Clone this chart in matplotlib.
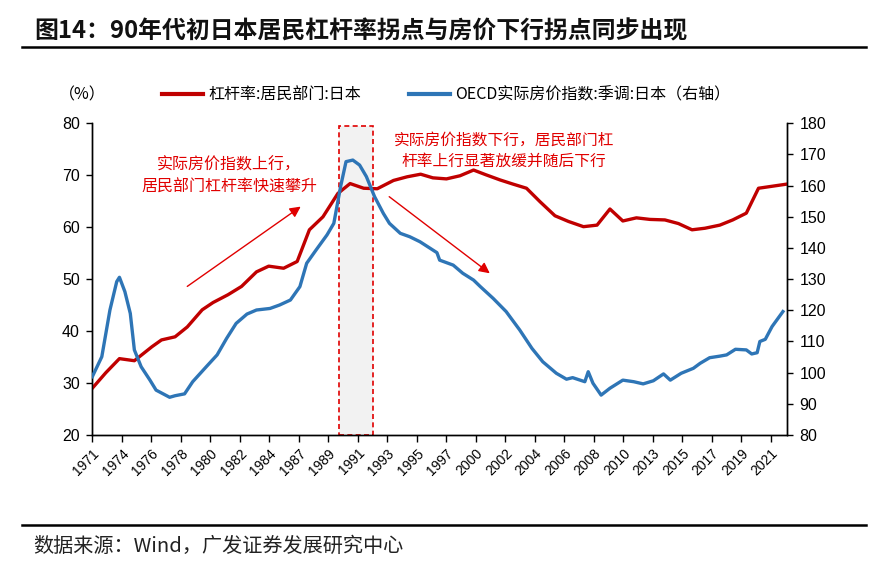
import matplotlib
matplotlib.use('Agg')
import matplotlib.pyplot as plt
from matplotlib.lines import Line2D
import numpy as np

plt.rcParams['font.family'] = ['Liberation Sans', 'Noto Sans CJK SC', 'DejaVu Sans']

title = "图14：90年代初日本居民杠杆率拐点与房价下行拐点同步出现"
source = "数据来源：Wind，广发证券发展研究中心"
lev_label = "杠杆率:居民部门:日本"
hp_label = "OECD实际房价指数:季调:日本（右轴）"
unit_label = "（%）"
note_up = "实际房价指数上行，\n居民部门杠杆率快速攀升"
note_down = "实际房价指数下行，居民部门杠\n杆率上行显著放缓并随后下行"

tick_labels = ["1971", "1974", "1976", "1978", "1980", "1982", "1984", "1987",
               "1989", "1991", "1993", "1995", "1997", "2000", "2002", "2004",
               "2006", "2008", "2010", "2013", "2015", "2017", "2019", "2021"]

lev_years = [1971.0, 1972.0, 1973.0, 1974.1, 1975.4, 1976.1, 1977.1, 1978.0, 1979.1,
             1979.9, 1981.0, 1982.0, 1983.1, 1984.0, 1985.1, 1986.1, 1987.0, 1988.0,
             1989.1, 1990.0, 1991.0, 1992.0, 1993.2, 1994.2, 1995.2, 1996.1, 1997.1,
             1998.1, 1999.1, 2000.0, 2001.05, 2002.0, 2003.0, 2004.0, 2005.1, 2006.1,
             2007.2, 2008.2, 2009.15, 2010.1, 2011.1, 2012.1, 2013.2, 2014.2, 2015.2,
             2016.15, 2017.25, 2018.2, 2019.2, 2020.1, 2022.2]
lev_values = [29.0, 32.0, 34.7, 34.3, 37.0, 38.3, 38.9, 40.8, 44.1,
              45.5, 47.0, 48.6, 51.4, 52.5, 52.1, 53.4, 59.5, 62.0,
              66.5, 68.4, 67.5, 67.4, 69.0, 69.7, 70.2, 69.5, 69.3,
              69.9, 71.0, 70.1, 69.1, 68.3, 67.5, 64.9, 62.2, 61.1,
              60.1, 60.4, 63.5, 61.2, 61.8, 61.5, 61.4, 60.7, 59.5,
              59.8, 60.4, 61.4, 62.7, 67.5, 68.3]

hp_years = [1971.0, 1971.7, 1972.3, 1972.8, 1973.0, 1973.4, 1973.8, 1974.1, 1974.6,
            1975.25, 1975.7, 1976.7, 1977.1, 1977.8, 1978.4, 1979.4, 1980.2, 1980.9,
            1981.6, 1982.4, 1983.1, 1984.1, 1984.8, 1985.6, 1986.3, 1986.8, 1987.5,
            1988.3, 1988.8, 1989.3, 1989.7, 1990.2, 1990.7, 1991.2, 1991.8, 1992.45,
            1992.9, 1993.7, 1994.4, 1995.15, 1995.9, 1996.4, 1996.6, 1997.6, 1998.3,
            1999.1, 1999.6, 2000.55, 2001.5, 2002.5, 2003.4, 2004.2, 2005.2, 2005.95,
            2006.4, 2007.3, 2007.55, 2007.9, 2008.5, 2009.15, 2010.1, 2010.9, 2011.6,
            2012.35, 2013.1, 2013.6, 2014.4, 2015.3, 2015.8, 2016.5, 2017.25, 2017.75,
            2018.4, 2019.2, 2019.6, 2020.0, 2020.2, 2020.6, 2021.1, 2021.9]
hp_values = [98.7, 105.1, 120.1, 129.2, 130.6, 126.0, 119.0, 107.3, 101.9,
             97.6, 94.4, 92.1, 92.6, 93.2, 97.1, 101.9, 105.7, 111.0,
             115.8, 118.8, 120.1, 120.6, 121.7, 123.3, 127.6, 135.1, 139.4,
             144.2, 147.9, 159.7, 167.7, 168.2, 166.6, 162.9, 156.5, 151.1,
             147.9, 144.7, 143.6, 142.0, 139.9, 138.5, 136.1, 134.5, 131.9,
             129.7, 127.6, 123.8, 119.6, 113.7, 107.8, 103.5, 99.8, 97.9,
             98.4, 97.1, 100.3, 96.6, 92.8, 95.0, 97.6, 97.1, 96.4,
             97.4, 99.6, 97.6, 99.8, 101.4, 103.0, 104.8, 105.3, 105.7,
             107.5, 107.3, 106.0, 106.4, 110.0, 110.7, 114.8, 119.6]

highlight = (1989.2, 1991.7)

RED = '#C00000'
BLUE = '#2E75B6'
NOTE = '#E00000'

W, H = 889, 571
fig = plt.figure(figsize=(W / 100, H / 100), dpi=100)
ax = fig.add_axes([92.3 / W, 1 - 435 / H, (787 - 92.3) / W, (435 - 123.3) / H])
ax2 = ax.twinx()

ax.axvspan(highlight[0], highlight[1], ymin=0, ymax=0.99, facecolor='#F2F2F2',
           edgecolor=NOTE, linestyle=(0, (3, 2)), linewidth=1.2, zorder=0)

ax.plot(lev_years, lev_values, color=RED, lw=2.4, solid_joinstyle='round', zorder=3)
ax2.plot(hp_years, hp_values, color=BLUE, lw=2.4, solid_joinstyle='round', zorder=3)

tick_step = 2.174
ticks = 1971 + np.arange(len(tick_labels)) * tick_step
ax.set_xlim(1971, 2022.2)
ax.set_xticks(ticks)
ax.set_xticklabels(tick_labels, rotation=45, ha='right', rotation_mode='anchor', fontsize=10)

ax.set_ylim(20, 80)
ax.set_yticks(np.arange(20, 81, 10))
ax2.set_ylim(80, 180)
ax2.set_yticks(np.arange(80, 181, 10))

for a in (ax, ax2):
    a.spines['top'].set_visible(False)
    for s in a.spines.values():
        s.set_linewidth(1.0)
ax.tick_params(axis='y', direction='out', length=4, width=1, labelsize=11.5, pad=5)
ax.tick_params(axis='x', direction='out', length=5, width=1, pad=3)
ax2.tick_params(axis='y', direction='out', length=4, width=1, labelsize=11.5, pad=5)

cjk = ['Noto Sans CJK SC', 'DejaVu Sans']

# annotations
ax.annotate('', xy=(303 / W, 1 - 205 / H), xytext=(185 / W, 1 - 288 / H),
            xycoords='figure fraction', textcoords='figure fraction',
            arrowprops=dict(arrowstyle='-|>', color=NOTE, lw=1.0, mutation_scale=16))
ax.annotate('', xy=(492 / W, 1 - 275 / H), xytext=(387 / W, 1 - 195 / H),
            xycoords='figure fraction', textcoords='figure fraction',
            arrowprops=dict(arrowstyle='-|>', color=NOTE, lw=1.0, mutation_scale=16))
fig.text(229 / W, 1 - 176 / H, note_up, color=NOTE, fontsize=11.5, ha='center',
         va='center', linespacing=1.35, family=cjk)
fig.text(504 / W, 1 - 151 / H, note_down, color=NOTE, fontsize=11.3, ha='center',
         va='center', linespacing=1.35, family=cjk)

# legend
handles = [Line2D([], [], color=RED, lw=3), Line2D([], [], color=BLUE, lw=3)]
fig.legend(handles, [lev_label, hp_label], loc='center', bbox_to_anchor=(446 / W, 1 - 95 / H),
           ncol=2, frameon=False, handlelength=2.6, handletextpad=0.3, columnspacing=3.0,
           prop={'family': cjk, 'size': 11.5})
fig.text(82 / W, 1 - 95 / H, unit_label, fontsize=11.5, ha='center', va='center', family=cjk)

# title, rules, source
fig.text(34 / W, 1 - 31 / H, title, fontsize=17.2, fontweight='bold', ha='left', va='center',
         family=cjk, color='#111111')
fig.add_artist(Line2D([22 / W, 866 / W], [1 - 47 / H, 1 - 47 / H], color='black', lw=1.8))
fig.add_artist(Line2D([22 / W, 866 / W], [1 - 525 / H, 1 - 525 / H], color='black', lw=1.8))
fig.text(33 / W, 1 - 546 / H, source, fontsize=14.5, ha='left', va='center', family=cjk,
         color='#222222')

fig.savefig('out.png', dpi=100)
